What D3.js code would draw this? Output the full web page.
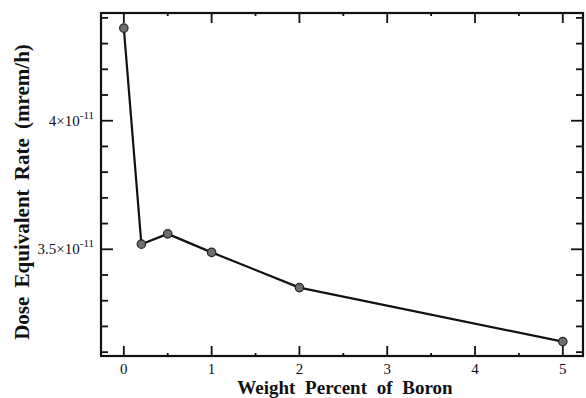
<!DOCTYPE html>
<html>
<head>
<meta charset="utf-8">
<script src="https://cdn.jsdelivr.net/npm/d3@7"></script>
<style>
  html, body { margin: 0; padding: 0; background: #fff; }
  svg { display: block; }
</style>
</head>
<body>
<svg id="chart" width="586" height="398"></svg>
<script>
// Dose equivalent rate versus boron loading
const boronWeightPercent = [0, 0.2, 0.5, 1, 2, 5];
const doseRate = [4.36e-11, 3.52e-11, 3.56e-11, 3.488e-11, 3.351e-11, 3.141e-11];

const xMajorTicks = [0, 1, 2, 3, 4, 5];
const xMinorTicks = [0.5, 1.5, 2.5, 3.5, 4.5];
const yMajorTicks = [3.5e-11, 4e-11];
const yMajorLabels = ["3.5×10", "4×10"];
const yExponent = "-11";
const yMinorTicks = [3.1e-11, 3.2e-11, 3.3e-11, 3.4e-11, 3.6e-11, 3.7e-11, 3.8e-11, 3.9e-11, 4.1e-11, 4.2e-11, 4.3e-11, 4.4e-11];

const xTitle = "Weight Percent of Boron";
const yTitle = "Dose Equivalent Rate (mrem/h)";

const serif = "Liberation Serif";
const svg = d3.select("#chart");
const plotL = 101, plotR = 583, plotT = 13, plotB = 356;

const x = d3.scaleLinear().domain([-0.26, 5.23]).range([plotL, plotR]);
const y = d3.scaleLinear().domain([3.085e-11, 4.419e-11]).range([plotB, plotT]);

// Plot frame
svg.append("rect")
  .attr("x", plotL).attr("y", plotT)
  .attr("width", plotR - plotL).attr("height", plotB - plotT)
  .attr("fill", "none").attr("stroke", "#111").attr("stroke-width", 2.2);

const tickG = svg.append("g").attr("stroke", "#111").attr("stroke-width", 1.8);

// X ticks on bottom and top edges, pointing inward
function xTicks(values, len) {
  values.forEach(v => {
    tickG.append("line").attr("x1", x(v)).attr("x2", x(v)).attr("y1", plotB).attr("y2", plotB - len);
    tickG.append("line").attr("x1", x(v)).attr("x2", x(v)).attr("y1", plotT).attr("y2", plotT + len);
  });
}
xTicks(xMajorTicks, 10);
xTicks(xMinorTicks, 3);

// Y ticks on left and right edges, pointing inward
function yTicks(values, len) {
  values.forEach(v => {
    tickG.append("line").attr("x1", plotL).attr("x2", plotL + len).attr("y1", y(v)).attr("y2", y(v));
    tickG.append("line").attr("x1", plotR).attr("x2", plotR - len).attr("y1", y(v)).attr("y2", y(v));
  });
}
yTicks(yMajorTicks, 12);
yTicks(yMinorTicks, 7);

// X tick labels
svg.append("g").selectAll("text").data(xMajorTicks).join("text")
  .attr("font-family", serif)
  .attr("x", d => x(d)).attr("y", 374)
  .attr("text-anchor", "middle")
  .attr("font-size", 15).attr("fill", "#111")
  .text(d => d);

// Y tick labels in scientific notation with superscript exponent
const yl = svg.append("g").selectAll("text").data(yMajorTicks).join("text")
  .attr("font-family", serif)
  .attr("x", 94).attr("y", d => y(d) + 5)
  .attr("text-anchor", "end")
  .attr("font-size", 15).attr("fill", "#111");
yl.append("tspan").text((d, i) => yMajorLabels[i]);
yl.append("tspan").attr("dy", -7).attr("font-size", 11).text(yExponent);

// Axis titles
svg.append("text")
  .attr("font-family", serif)
  .attr("x", 345).attr("y", 394)
  .attr("text-anchor", "middle")
  .attr("font-size", 19).attr("font-weight", "bold").attr("fill", "#111")
  .attr("word-spacing", 5)
  .text(xTitle);

svg.append("text")
  .attr("font-family", serif)
  .attr("transform", `translate(29, ${192}) rotate(-90)`)
  .attr("text-anchor", "middle")
  .attr("font-size", 21).attr("font-weight", "bold").attr("fill", "#111")
  .attr("word-spacing", 4)
  .text(yTitle);

// Data line and markers
const pts = boronWeightPercent.map((b, i) => [b, doseRate[i]]);
svg.append("path")
  .datum(pts)
  .attr("fill", "none").attr("stroke", "#111").attr("stroke-width", 2.2)
  .attr("stroke-linejoin", "round")
  .attr("d", d3.line().x(d => x(d[0])).y(d => y(d[1])));

svg.append("g").selectAll("circle").data(pts).join("circle")
  .attr("cx", d => x(d[0])).attr("cy", d => y(d[1]))
  .attr("r", 4.2)
  .attr("fill", "#6e6e6e").attr("stroke", "#222").attr("stroke-width", 1.2);
</script>
</body>
</html>
